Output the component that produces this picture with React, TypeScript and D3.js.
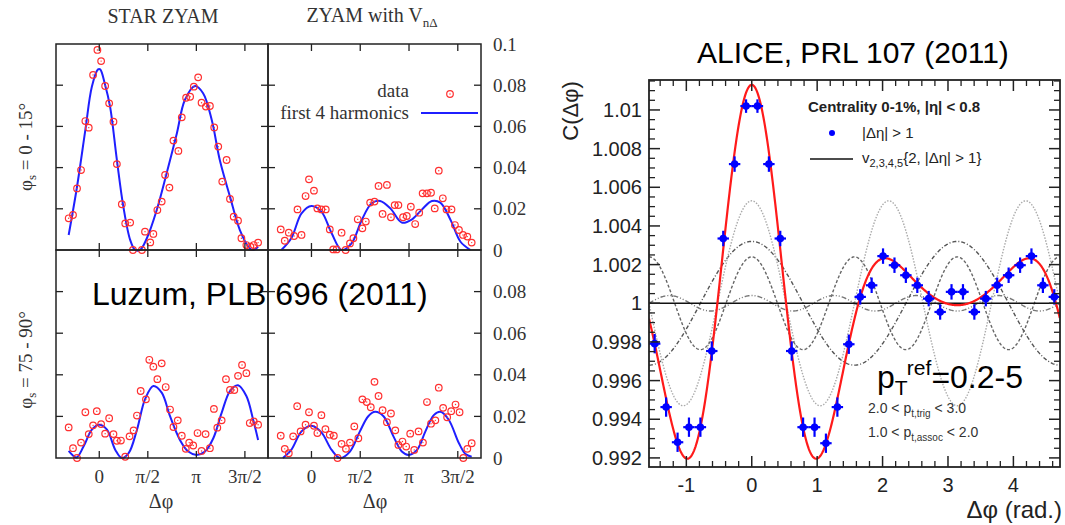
import React from 'react';
import * as d3 from 'd3';

const W = 1065;
const H = 525;

// ---------- Luzum panels (left composite) ----------
const phiTicks = [0, Math.PI / 2, Math.PI, (3 * Math.PI) / 2];
const phiTickLabels = ['0', 'π/2', 'π', '3π/2'];
const vTicks = [0, 0.02, 0.04, 0.06, 0.08, 0.1];
const vTickLabelsTop = ['0', '0.02', '0.04', '0.06', '0.08', '0.1'];
const vTickLabelsBottom = ['0', '0.02', '0.04', '0.06', '0.08', ''];

// top-left: STAR ZYAM, phi_s = 0-15
const tlData: [number, number][] = [
  [-0.99, 0.0154], [-0.85, 0.017], [-0.72, 0.0299], [-0.59, 0.0388], [-0.45, 0.0626], [-0.34, 0.0594],
  [-0.2, 0.085], [-0.06, 0.0971], [0.06, 0.0917], [0.19, 0.0796], [0.32, 0.0712], [0.46, 0.0623],
  [0.57, 0.0417], [0.73, 0.0222], [0.84, 0.0129], [1.0, 0.0133], [1.09, 0.0], [1.38, 0.0],
  [1.48, 0.0089], [1.65, 0.0037], [1.75, 0.0078], [1.88, 0.0194], [2.02, 0.0235], [2.13, 0.0364],
  [2.27, 0.0303], [2.4, 0.0531], [2.56, 0.0481], [2.67, 0.0644], [2.81, 0.0739], [2.94, 0.0744],
  [3.06, 0.0793], [3.2, 0.0838], [3.31, 0.0715], [3.45, 0.0696], [3.58, 0.0699], [3.72, 0.0595],
  [3.85, 0.0502], [3.98, 0.0332], [4.12, 0.0437], [4.23, 0.0248], [4.35, 0.0162], [4.49, 0.0142],
  [4.6, 0.0057], [4.76, 0.0024], [4.89, 0.0016], [5.0, 0.0024], [5.14, 0.0036],
];
const tlCurve: [number, number][] = [
  [-0.99, 0.0073], [-0.72, 0.0307], [-0.45, 0.0583], [-0.24, 0.0793], [-0.04, 0.0877], [0.03, 0.0877],
  [0.19, 0.0801], [0.35, 0.0696], [0.57, 0.0437], [0.78, 0.021], [1.0, 0.0049], [1.16, 0.0],
  [1.32, 0.0], [1.54, 0.0057], [1.86, 0.0194], [2.18, 0.0372], [2.51, 0.0566], [2.77, 0.0728],
  [3.1, 0.0796], [3.36, 0.0761], [3.64, 0.0631], [3.9, 0.0437], [4.23, 0.0259], [4.55, 0.0097],
  [4.87, 0.0008], [4.98, 0.0], [5.14, 0.0016],
];

// top-right: ZYAM with V_nΔ, phi_s = 0-15
const trData: [number, number][] = [
  [-0.99, 0.01], [-0.86, 0.0045], [-0.73, 0.0084], [-0.56, 0.0068], [-0.45, 0.0197], [-0.32, 0.0073],
  [-0.19, 0.0262], [-0.08, 0.0343], [0.08, 0.0288], [0.19, 0.0202], [0.32, 0.0197], [0.46, 0.0197],
  [0.59, 0.01], [0.7, 0.0003], [0.81, 0.0003], [0.97, 0.0084], [1.1, 0.0], [1.24, 0.0032],
  [1.35, 0.0057], [1.49, 0.0149], [1.64, 0.0105], [1.75, 0.0138], [1.89, 0.023], [2.03, 0.0235],
  [2.16, 0.0311], [2.29, 0.0175], [2.43, 0.0316], [2.56, 0.0159], [2.68, 0.0218], [2.8, 0.0218],
  [2.95, 0.0159], [3.07, 0.0165], [3.2, 0.021], [3.34, 0.0126], [3.47, 0.0181], [3.58, 0.0275],
  [3.72, 0.0275], [3.85, 0.0278], [3.97, 0.0202], [4.1, 0.0385], [4.23, 0.0251], [4.35, 0.0197],
  [4.51, 0.0197], [4.62, 0.0121], [4.75, 0.0097], [4.88, 0.0073], [5.02, 0.0065], [5.16, 0.0036],
];
const trCurve: [number, number][] = [
  [-0.97, 0.0], [-0.65, 0.0057], [-0.32, 0.0178], [0.0, 0.0214], [0.32, 0.0186], [0.65, 0.0081],
  [0.97, 0.0], [1.29, 0.0032], [1.62, 0.0146], [1.94, 0.0227], [2.21, 0.0238], [2.54, 0.0202],
  [2.91, 0.0133], [3.24, 0.0149], [3.56, 0.0197], [3.88, 0.0238], [4.15, 0.023], [4.48, 0.0146],
  [4.8, 0.004], [5.12, 0.0],
];

// bottom-left: STAR ZYAM, phi_s = 75-90
const blData: [number, number][] = [
  [-0.99, 0.0147], [-0.85, 0.0047], [-0.72, 0.0], [-0.59, 0.0074], [-0.45, 0.022], [-0.34, 0.0115],
  [-0.2, 0.0157], [-0.08, 0.0225], [0.06, 0.0163], [0.19, 0.0117], [0.32, 0.0191], [0.46, 0.0115],
  [0.57, 0.0083], [0.7, 0.0084], [0.84, 0.0006], [0.98, 0.0104], [1.11, 0.0133], [1.22, 0.0204],
  [1.34, 0.0322], [1.51, 0.0282], [1.62, 0.0472], [1.75, 0.0439], [1.88, 0.0379], [2.02, 0.0455],
  [2.15, 0.0341], [2.29, 0.0233], [2.4, 0.0149], [2.54, 0.0181], [2.67, 0.0107], [2.8, 0.0044],
  [2.91, 0.0074], [3.04, 0.006], [3.18, 0.012], [3.31, 0.0034], [3.44, 0.0115], [3.58, 0.0047],
  [3.71, 0.0236], [3.82, 0.0146], [3.96, 0.0181], [4.1, 0.0379], [4.23, 0.0327], [4.37, 0.0327],
  [4.49, 0.0395], [4.62, 0.0447], [4.76, 0.0408], [4.87, 0.0168], [5.0, 0.0176], [5.14, 0.016],
];
const blCurve: [number, number][] = [
  [-0.99, 0.0034], [-0.74, 0.0003], [-0.51, 0.0055], [-0.24, 0.0136], [0.0, 0.016], [0.25, 0.0136],
  [0.52, 0.0039], [0.73, 0.0], [0.95, 0.0023], [1.22, 0.0136], [1.48, 0.0282], [1.75, 0.0346],
  [2.02, 0.0314], [2.29, 0.0201], [2.61, 0.0087], [2.88, 0.0031], [3.15, 0.0015], [3.42, 0.0031],
  [3.69, 0.0095], [3.96, 0.0217], [4.23, 0.0322], [4.49, 0.035], [4.76, 0.0298], [4.98, 0.0184],
  [5.14, 0.0087],
];

// bottom-right: ZYAM with V_nΔ, phi_s = 75-90
const brData: [number, number][] = [
  [-0.99, 0.0107], [-0.86, 0.0044], [-0.73, 0.0023], [-0.59, 0.0104], [-0.46, 0.0249], [-0.35, 0.0128],
  [-0.19, 0.016], [-0.08, 0.022], [0.08, 0.0155], [0.19, 0.012], [0.32, 0.0206], [0.45, 0.0139],
  [0.59, 0.0112], [0.72, 0.0107], [0.84, 0.0], [0.97, 0.0068], [1.11, 0.0044], [1.24, 0.0074],
  [1.38, 0.0152], [1.51, 0.0095], [1.64, 0.0282], [1.78, 0.0269], [1.91, 0.0244], [2.03, 0.0366],
  [2.16, 0.0298], [2.29, 0.023], [2.43, 0.0172], [2.56, 0.0214], [2.7, 0.0133], [2.8, 0.0063],
  [2.93, 0.0079], [3.05, 0.0055], [3.18, 0.0117], [3.31, 0.0039], [3.45, 0.0128], [3.59, 0.0074],
  [3.72, 0.0269], [3.85, 0.0165], [3.99, 0.0181], [4.1, 0.0338], [4.24, 0.0241], [4.37, 0.0196],
  [4.5, 0.0225], [4.64, 0.0257], [4.77, 0.022], [4.89, 0.0], [5.02, 0.0044], [5.16, 0.0071],
];
const brCurve: [number, number][] = [
  [-0.92, 0.0], [-0.65, 0.0039], [-0.32, 0.0128], [0.0, 0.0155], [0.32, 0.0123], [0.65, 0.0039],
  [0.92, 0.0], [1.24, 0.0031], [1.56, 0.0128], [1.83, 0.0201], [2.05, 0.0222], [2.32, 0.0201],
  [2.64, 0.0104], [2.91, 0.0031], [3.13, 0.0015], [3.4, 0.0039], [3.67, 0.0128], [3.94, 0.0206],
  [4.15, 0.0222], [4.42, 0.0184], [4.75, 0.0071], [4.96, 0.0019], [5.16, 0.0006],
];

// ---------- ALICE panel ----------
const alicePhi = [
  -1.484, -1.309, -1.134, -0.96, -0.785, -0.611, -0.436, -0.262, -0.087, 0.087, 0.262, 0.436,
  0.611, 0.785, 0.96, 1.134, 1.309, 1.484, 1.658, 1.833, 2.007, 2.182, 2.356, 2.531,
  2.705, 2.88, 3.054, 3.229, 3.403, 3.578, 3.752, 3.927, 4.102, 4.276, 4.451, 4.625,
];
const aliceC = [
  0.99791, 0.99463, 0.99281, 0.99359, 0.99359, 0.99753, 1.00335, 1.0072, 1.0102, 1.0102, 1.0072, 1.00335,
  0.99753, 0.99359, 0.99359, 0.99276, 0.99463, 0.99788, 1.00033, 1.00093, 1.00244, 1.00197, 1.00145, 1.00093,
  1.00024, 0.99955, 1.00059, 1.00059, 0.99955, 1.00024, 1.00093, 1.00145, 1.00197, 1.00244, 1.00093, 1.00033,
];
const aliceErr = [
  0.0005, 0.0005, 0.0005, 0.0005, 0.0005, 0.0005, 0.0004, 0.0004, 0.00035, 0.00035, 0.0004, 0.0004,
  0.0005, 0.0005, 0.0005, 0.0005, 0.0005, 0.0005, 0.0004, 0.0004, 0.0004, 0.0004, 0.0004, 0.0004,
  0.0004, 0.0004, 0.0004, 0.0004, 0.0004, 0.0004, 0.0004, 0.0004, 0.0004, 0.0004, 0.0004, 0.0004,
];
const aliceBinHalfWidth = 0.0873;
const aliceHarmonicOrders = [2, 3, 4, 5];
const aliceHarmonicAmps = [0.0032, 0.0053, 0.0024, 0.0004];
const aliceHarmonicStyles = [
  { stroke: '#555', dash: '4,2,1,2' },
  { stroke: '#aaa', dash: '1.5,1.5' },
  { stroke: '#666', dash: '3,2' },
  { stroke: '#777', dash: '5,2,1,2,1,2' },
];
const aliceXMajor = [-1, 0, 1, 2, 3, 4];
const aliceXLabels = ['-1', '0', '1', '2', '3', '4'];
const aliceYMajor = [0.992, 0.994, 0.996, 0.998, 1.0, 1.002, 1.004, 1.006, 1.008, 1.01];
const aliceYLabels = ['0.992', '0.994', '0.996', '0.998', '1', '1.002', '1.004', '1.006', '1.008', '1.01'];

const serif = '"Liberation Serif", "DejaVu Serif", serif';
const sans = '"Liberation Sans", Arial, sans-serif';

type PanelProps = {
  x0: number; x1: number; y0: number; y1: number;
  data: [number, number][]; curve: [number, number][];
};

function LuzumPanel({ x0, x1, y0, y1, data, curve }: PanelProps) {
  const xs = d3.scaleLinear().domain([-1.4, 5.46]).range([x0, x1]);
  const ys = d3.scaleLinear().domain([0, 0.1]).range([y1, y0]);
  const line = d3
    .line<[number, number]>()
    .x((d) => xs(d[0]))
    .y((d) => ys(d[1]))
    .curve(d3.curveCatmullRom.alpha(0.5));
  const tl = 7;
  return (
    <g>
      <path d={line(curve) || ''} fill="none" stroke="#1f1fff" strokeWidth={2} />
      {data.map((d, i) => (
        <g key={i}>
          <circle cx={xs(d[0])} cy={ys(d[1])} r={3.3} fill="none" stroke="#ff3030" strokeWidth={1.2} />
          <circle cx={xs(d[0])} cy={ys(d[1])} r={0.7} fill="#ff3030" />
        </g>
      ))}
      <rect x={x0} y={y0} width={x1 - x0} height={y1 - y0} fill="none" stroke="#222" strokeWidth={1.5} />
      {phiTicks.map((t, i) => (
        <g key={'x' + i}>
          <line x1={xs(t)} x2={xs(t)} y1={y1} y2={y1 - tl} stroke="#222" strokeWidth={1.3} />
          <line x1={xs(t)} x2={xs(t)} y1={y0} y2={y0 + tl} stroke="#222" strokeWidth={1.3} />
        </g>
      ))}
      {vTicks.slice(1, -1).map((t, i) => (
        <g key={'y' + i}>
          <line x1={x0} x2={x0 + tl} y1={ys(t)} y2={ys(t)} stroke="#222" strokeWidth={1.3} />
          <line x1={x1} x2={x1 - tl} y1={ys(t)} y2={ys(t)} stroke="#222" strokeWidth={1.3} />
        </g>
      ))}
    </g>
  );
}

export default function App() {
  // Left composite geometry
  const L = { xa: 56, xm: 268, xb: 481, ya: 44, ym: 250, yb: 458 };
  const ysTop = d3.scaleLinear().domain([0, 0.1]).range([L.ym, L.ya]);
  const ysBot = d3.scaleLinear().domain([0, 0.1]).range([L.yb, L.ym]);
  const xsLeft = d3.scaleLinear().domain([-1.4, 5.46]).range([L.xa, L.xm]);
  const xsRight = d3.scaleLinear().domain([-1.4, 5.46]).range([L.xm, L.xb]);

  // ALICE geometry
  const ax = d3.scaleLinear().domain([-Math.PI / 2, (3 * Math.PI) / 2]).range([649, 1060]);
  const ay = d3.scaleLinear().domain([0.99153, 1.01155]).range([467, 80]);
  const aTop = 80, aBot = 467, aLeft = 649, aRight = 1060;
  const phiGrid = d3.range(-Math.PI / 2, (3 * Math.PI) / 2 + 0.001, 0.01);
  const aLine = d3
    .line<[number, number]>()
    .x((d) => ax(d[0]))
    .y((d) => ay(d[1]));
  const harmonicCurves = aliceHarmonicOrders.map((n, k) =>
    phiGrid.map((p) => [p, 1 + aliceHarmonicAmps[k] * Math.cos(n * p)] as [number, number])
  );
  const sumCurve = phiGrid.map(
    (p) =>
      [p, 1 + aliceHarmonicOrders.reduce((s, n, k) => s + aliceHarmonicAmps[k] * Math.cos(n * p), 0)] as [
        number,
        number
      ]
  );
  const xMinor = d3.range(-1.4, 4.65, 0.2).filter((v) => Math.abs(v - Math.round(v)) > 0.05);
  const yMinor = d3.range(0.992, 1.0116, 0.0005).filter((v) => Math.abs(v * 500 - Math.round(v * 500)) > 0.05);

  return (
    <svg
      width={W}
      height={H}
      style={{ position: 'absolute', left: 0, top: 0, background: '#fff' }}
      xmlns="http://www.w3.org/2000/svg"
    >
      <rect x={0} y={0} width={W} height={H} fill="#fff" />

      {/* ---------- Luzum composite ---------- */}
      <text x={163} y={23} textAnchor="middle" fontFamily={serif} fontSize={20} fill="#333">
        STAR ZYAM
      </text>
      <text x={372} y={22} textAnchor="middle" fontFamily={serif} fontSize={20} fill="#333">
        ZYAM with V
        <tspan fontSize={13} dy={5}>nΔ</tspan>
      </text>

      <LuzumPanel x0={L.xa} x1={L.xm} y0={L.ya} y1={L.ym} data={tlData} curve={tlCurve} />
      <LuzumPanel x0={L.xm} x1={L.xb} y0={L.ya} y1={L.ym} data={trData} curve={trCurve} />
      <LuzumPanel x0={L.xa} x1={L.xm} y0={L.ym} y1={L.yb} data={blData} curve={blCurve} />
      <LuzumPanel x0={L.xm} x1={L.xb} y0={L.ym} y1={L.yb} data={brData} curve={brCurve} />

      {/* right-side y tick labels */}
      {vTicks.map((t, i) => (
        <text key={'yt' + i} x={493} y={ysTop(t)} dy="0.35em" fontFamily={serif} fontSize={19} fill="#333">
          {vTickLabelsTop[i]}
        </text>
      ))}
      {vTicks.map((t, i) =>
        vTickLabelsBottom[i] ? (
          <text key={'yb' + i} x={493} y={ysBot(t)} dy="0.35em" fontFamily={serif} fontSize={19} fill="#333">
            {vTickLabelsBottom[i]}
          </text>
        ) : null
      )}
      {/* bottom x tick labels */}
      {phiTicks.map((t, i) => (
        <g key={'xl' + i}>
          <text x={xsLeft(t)} y={483} textAnchor="middle" fontFamily={serif} fontSize={19} fill="#333">
            {phiTickLabels[i]}
          </text>
          <text x={xsRight(t)} y={483} textAnchor="middle" fontFamily={serif} fontSize={19} fill="#333">
            {phiTickLabels[i]}
          </text>
        </g>
      ))}
      <text x={161} y={508} textAnchor="middle" fontFamily={serif} fontSize={20} fill="#333">
        Δφ
      </text>
      <text x={375} y={508} textAnchor="middle" fontFamily={serif} fontSize={20} fill="#333">
        Δφ
      </text>
      {/* y labels */}
      <text transform="translate(32,147) rotate(-90)" textAnchor="middle" fontFamily={serif} fontSize={19} fill="#333">
        φ<tspan fontSize={13} dy={4}>s</tspan>
        <tspan dy={-4}> = 0 - 15°</tspan>
      </text>
      <text transform="translate(32,360) rotate(-90)" textAnchor="middle" fontFamily={serif} fontSize={19} fill="#333">
        φ<tspan fontSize={13} dy={4}>s</tspan>
        <tspan dy={-4}> = 75 - 90°</tspan>
      </text>
      {/* legend */}
      <text x={409} y={97} textAnchor="end" fontFamily={serif} fontSize={19} fill="#333">
        data
      </text>
      <circle cx={450} cy={94} r={3.3} fill="none" stroke="#ff3030" strokeWidth={1.2} />
      <circle cx={450} cy={94} r={0.7} fill="#ff3030" />
      <text x={409} y={119} textAnchor="end" fontFamily={serif} fontSize={19} fill="#333">
        first 4 harmonics
      </text>
      <line x1={421} x2={478} y1={113} y2={113} stroke="#1f1fff" strokeWidth={2} />

      <text x={92} y={305} fontFamily={sans} fontSize={32} fill="#000">
        Luzum, PLB 696 (2011)
      </text>

      {/* ---------- ALICE ---------- */}
      <text x={697} y={63} fontFamily={sans} fontSize={30} fill="#000">
        ALICE, PRL 107 (2011)
      </text>

      <defs>
        <clipPath id="aclip">
          <rect x={aLeft} y={aTop} width={aRight - aLeft} height={aBot - aTop} />
        </clipPath>
      </defs>
      <g clipPath="url(#aclip)">
        {harmonicCurves.map((c, k) => (
          <path
            key={'h' + k}
            d={aLine(c) || ''}
            fill="none"
            stroke={aliceHarmonicStyles[k].stroke}
            strokeWidth={1.4}
            strokeDasharray={aliceHarmonicStyles[k].dash}
          />
        ))}
        <line x1={aLeft} x2={aRight} y1={ay(1)} y2={ay(1)} stroke="#111" strokeWidth={1.6} />
        <path d={aLine(sumCurve) || ''} fill="none" stroke="#ff1a1a" strokeWidth={2.2} />
        {alicePhi.map((p, i) => (
          <g key={'ap' + i}>
            <line
              x1={ax(p)}
              x2={ax(p)}
              y1={ay(aliceC[i] - aliceErr[i])}
              y2={ay(aliceC[i] + aliceErr[i])}
              stroke="#0000ff"
              strokeWidth={2.2}
            />
            <line
              x1={ax(p - aliceBinHalfWidth)}
              x2={ax(p + aliceBinHalfWidth)}
              y1={ay(aliceC[i])}
              y2={ay(aliceC[i])}
              stroke="#0000ff"
              strokeWidth={2.2}
            />
            <circle cx={ax(p)} cy={ay(aliceC[i])} r={3.8} fill="#0000ff" />
          </g>
        ))}
      </g>

      {/* frame */}
      <rect x={aLeft} y={aTop} width={aRight - aLeft} height={aBot - aTop} fill="none" stroke="#222" strokeWidth={1.8} />
      {aliceXMajor.map((t, i) => (
        <g key={'axm' + i}>
          <line x1={ax(t)} x2={ax(t)} y1={aBot} y2={aBot - 11} stroke="#222" strokeWidth={1.5} />
          <line x1={ax(t)} x2={ax(t)} y1={aTop} y2={aTop + 11} stroke="#222" strokeWidth={1.5} />
          <text x={ax(t)} y={492} textAnchor="middle" fontFamily={sans} fontSize={20} fill="#222">
            {aliceXLabels[i]}
          </text>
        </g>
      ))}
      {xMinor.map((t, i) => (
        <g key={'axn' + i}>
          <line x1={ax(t)} x2={ax(t)} y1={aBot} y2={aBot - 6} stroke="#222" strokeWidth={1.3} />
          <line x1={ax(t)} x2={ax(t)} y1={aTop} y2={aTop + 6} stroke="#222" strokeWidth={1.3} />
        </g>
      ))}
      {aliceYMajor.map((t, i) => (
        <g key={'aym' + i}>
          <line x1={aLeft} x2={aLeft + 11} y1={ay(t)} y2={ay(t)} stroke="#222" strokeWidth={1.5} />
          <line x1={aRight} x2={aRight - 11} y1={ay(t)} y2={ay(t)} stroke="#222" strokeWidth={1.5} />
          <text x={642} y={ay(t)} dy="0.36em" textAnchor="end" fontFamily={sans} fontSize={20} fill="#222">
            {aliceYLabels[i]}
          </text>
        </g>
      ))}
      {yMinor.map((t, i) => (
        <g key={'ayn' + i}>
          <line x1={aLeft} x2={aLeft + 6} y1={ay(t)} y2={ay(t)} stroke="#222" strokeWidth={1.3} />
          <line x1={aRight} x2={aRight - 6} y1={ay(t)} y2={ay(t)} stroke="#222" strokeWidth={1.3} />
        </g>
      ))}
      <text x={1062} y={518} textAnchor="end" fontFamily={sans} fontSize={24} fill="#222">
        Δφ (rad.)
      </text>
      <text transform="translate(578,111) rotate(-90)" textAnchor="middle" fontFamily={sans} fontSize={22} fill="#222">
        C(Δφ)
      </text>

      {/* ALICE legend */}
      <text x={808} y={112} fontFamily={sans} fontSize={15} fontWeight="bold" fill="#222">
        Centrality 0-1%, |η| &lt; 0.8
      </text>
      <circle cx={832} cy={133} r={3} fill="#0000ff" />
      <text x={862} y={138} fontFamily={sans} fontSize={15} fill="#222">
        |Δη| &gt; 1
      </text>
      <line x1={810} x2={853} y1={159} y2={159} stroke="#111" strokeWidth={1.5} />
      <text x={862} y={163} fontFamily={sans} fontSize={15} fill="#222">
        v<tspan fontSize={11} dy={4}>2,3,4,5</tspan>
        <tspan dy={-4}>{'{2, |Δη| > 1}'}</tspan>
      </text>

      <text x={877} y={388} fontFamily={sans} fontSize={32} fill="#000">
        p<tspan fontSize={21} dy={7}>T</tspan>
        <tspan fontSize={21} dy={-20}>ref</tspan>
        <tspan dy={13}>=0.2-5</tspan>
      </text>
      <text x={868} y={413} fontFamily={sans} fontSize={14} fill="#333">
        2.0 &lt; p<tspan fontSize={10} dy={4}>t,trig</tspan>
        <tspan dy={-4}> &lt; 3.0</tspan>
      </text>
      <text x={868} y={437} fontFamily={sans} fontSize={14} fill="#333">
        1.0 &lt; p<tspan fontSize={10} dy={4}>t,assoc</tspan>
        <tspan dy={-4}> &lt; 2.0</tspan>
      </text>
    </svg>
  );
}
